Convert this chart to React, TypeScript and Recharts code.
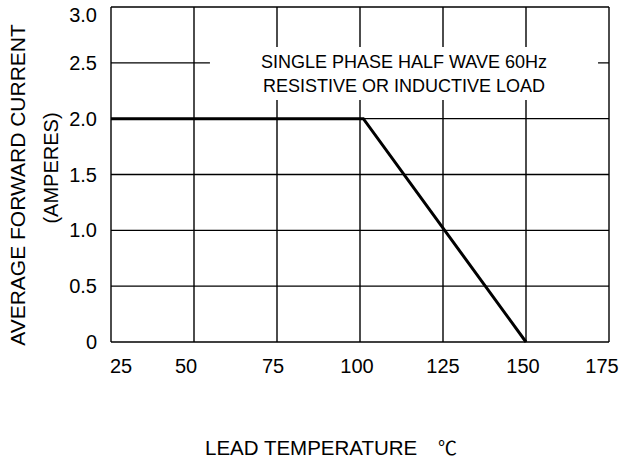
import { LineChart, Line, XAxis, YAxis, CartesianGrid, ReferenceArea } from 'recharts'

// derating curve
const leadTemps = [25, 101, 150]
const avgCurrent = [2.0, 2.0, 0]

const xTicks = [25, 50, 75, 100, 125, 150, 175]
const yTicks = [0, 0.5, 1.0, 1.5, 2.0, 2.5, 3.0]
const yTickLabels = ['0', '0.5', '1.0', '1.5', '2.0', '2.5', '3.0']
const noteLines = ['SINGLE PHASE HALF WAVE 60Hz', 'RESISTIVE OR INDUCTIVE LOAD']

const data = leadTemps.map((t, i) => ({ temp: t, current: avgCurrent[i] }))

const FONT = '"Liberation Sans", Arial, sans-serif'

// the scanned labels are not quite centred on their grid lines
const xLabelNudge: Record<number, number> = { 25: 10, 50: -8, 75: -4, 100: -3, 150: -3, 175: -7 }

const XTick = (props: any) => {
  const { x, y, payload } = props
  const nudge = xLabelNudge[payload.value] ?? 0
  return (
    <text x={x + nudge} y={y} dy="0.71em" textAnchor="middle" fontSize={20} fontFamily={FONT} fill="#000">
      {payload.value}
    </text>
  )
}

const YTick = (props: any) => {
  const { x, y, payload } = props
  const idx = yTicks.indexOf(payload.value)
  const nudge = payload.value === 3 ? 8 : 0
  return (
    <text x={x} y={y + nudge} dy="0.355em" textAnchor="end" fontSize={20} fontFamily={FONT} fill="#000">
      {yTickLabels[idx]}
    </text>
  )
}

const YTitle = () => (
  <g fontFamily={FONT} fill="#000">
    <text x={17} y={185} transform="rotate(-90 17 185)" textAnchor="middle" dominantBaseline="central" fontSize={21}>
      AVERAGE FORWARD CURRENT
    </text>
    <text x={51} y={168} transform="rotate(-90 51 168)" textAnchor="middle" dominantBaseline="central" fontSize={20}>
      (AMPERES)
    </text>
  </g>
)

const XTitle = () => (
  <g fill="#000">
    <text x={205} y={455} fontSize={20.5} fontFamily={FONT}>LEAD TEMPERATURE</text>
    <text x={438} y={455} fontSize={19} fontFamily='"Noto Sans CJK SC", sans-serif'>℃</text>
  </g>
)

const NoteLabel = (props: any) => {
  const { viewBox } = props
  const cx = viewBox.x + viewBox.width / 2
  return (
    <g fontFamily={FONT} fontSize={18} fill="#000">
      <text x={cx} y={68} textAnchor="middle">{noteLines[0]}</text>
      <text x={cx} y={92} textAnchor="middle">{noteLines[1]}</text>
    </g>
  )
}

export default function App() {
  return (
    <div style={{ position: 'absolute', left: 0, top: 0, background: '#fff' }}>
      <LineChart width={622} height={466} data={data} margin={{ top: 7, right: 13, bottom: 0, left: 0 }}>
        <CartesianGrid stroke="#000" strokeWidth={1.4} />
        <XAxis
          dataKey="temp"
          type="number"
          domain={[25, 175]}
          ticks={xTicks}
          interval={0}
          axisLine={false}
          tickLine={false}
          tickSize={0}
          tickMargin={17}
          height={124}
          tick={<XTick />}
          label={<XTitle />}
        />
        <YAxis
          type="number"
          domain={[0, 3]}
          ticks={yTicks}
          interval={0}
          axisLine={false}
          tickLine={false}
          tickSize={0}
          tickMargin={14}
          width={111}
          tick={<YTick />}
          label={<YTitle />}
        />
        <ReferenceArea x1={54.8} x2={171.7} y1={2.167} y2={2.642} fill="#fff" fillOpacity={1} stroke="none" label={<NoteLabel />} />
        <Line type="linear" dataKey="current" stroke="#000" strokeWidth={3} dot={false} isAnimationActive={false} />
      </LineChart>
    </div>
  )
}
